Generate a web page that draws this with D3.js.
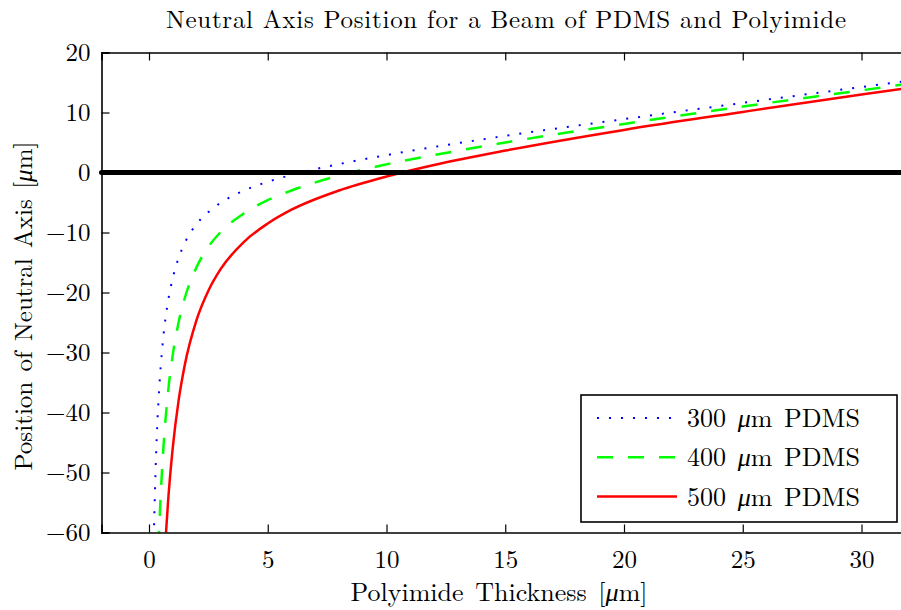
<!DOCTYPE html>
<html>
<head>
<meta charset="utf-8">
<script src="https://cdn.jsdelivr.net/npm/d3@7"></script>
<style>
  body { margin: 0; background: #fff; }
  text { font-family: "Latin Modern Roman", "CMU Serif", "Liberation Serif", serif; fill: #000; }
</style>
</head>
<body>
<div id="chart"></div>
<script>
// polyimide thickness [um] sampled along each curve
const thick300 = [0.2, 0.3, 0.4, 0.5, 0.6, 0.8, 1, 1.25, 1.5, 2, 2.5, 3, 4, 5, 6, 8, 10, 12, 15, 20, 25, 30, 32];
const pdms300 = [-60.8, -46.8, -38.0, -32.0, -27.5, -21.5, -17.6, -14.2, -11.8, -8.6, -6.6, -5.1, -3.0, -1.55, -0.4, 1.4, 2.9, 4.25, 6.1, 8.9, 11.6, 14.25, 15.3];

const thick400 = [0.4, 0.45, 0.5, 0.6, 0.8, 1, 1.25, 1.5, 2, 2.5, 3, 4, 5, 6, 8, 10, 12, 15, 20, 25, 30, 32];
const pdms400 = [-62.4, -57.4, -53.2, -46.3, -36.7, -30.4, -24.9, -21.0, -15.8, -12.4, -10.0, -6.8, -4.6, -3.0, -0.5, 1.35, 2.9, 5.0, 8.1, 11.0, 13.7, 14.8];

const thick500 = [0.6, 0.7, 0.8, 1, 1.25, 1.5, 2, 2.5, 3, 4, 5, 6, 8, 10, 12, 15, 20, 25, 30, 32];
const pdms500 = [-68.5, -61.0, -55.0, -45.9, -37.9, -32.2, -24.6, -19.7, -16.2, -11.55, -8.5, -6.2, -3.0, -0.67, 1.25, 3.65, 7.1, 10.1, 13.0, 14.1];

const seriesNames = ["300 \u03bcm PDMS", "400 \u03bcm PDMS", "500 \u03bcm PDMS"];
const xTicks = [0, 5, 10, 15, 20, 25, 30];
const yTicks = [-60, -50, -40, -30, -20, -10, 0, 10, 20];

const W = 901, H = 610;
const margin = { top: 52.5, right: -8, bottom: 77.5, left: 101.5 };

const svg = d3.select("#chart").append("svg")
    .attr("width", W)
    .attr("height", H);

const x = d3.scaleLinear().domain([-2, 32]).range([margin.left, W - margin.right]);
const y = d3.scaleLinear().domain([-60, 20]).range([H - margin.bottom, margin.top]);

svg.append("clipPath").attr("id", "clip")
  .append("rect")
    .attr("x", x.range()[0]).attr("y", y.range()[1])
    .attr("width", x.range()[1] - x.range()[0])
    .attr("height", y.range()[0] - y.range()[1]);

// curves
const series = [
  { xs: thick300, ys: pdms300, color: "#0000ff", dash: "2,10", width: 2 },
  { xs: thick400, ys: pdms400, color: "#00ff00", dash: "16,15", width: 2.5 },
  { xs: thick500, ys: pdms500, color: "#ff0000", dash: null, width: 2.5 }
];

const line = d3.line()
    .x(d => x(d[0]))
    .y(d => y(d[1]))
    .curve(d3.curveMonotoneX);

const plot = svg.append("g").attr("clip-path", "url(#clip)");
series.forEach(s => {
  plot.append("path")
      .datum(s.xs.map((v, i) => [v, s.ys[i]]))
      .attr("fill", "none")
      .attr("stroke", s.color)
      .attr("stroke-width", s.width)
      .attr("stroke-dasharray", s.dash)
      .attr("d", line);
});

// zero line
svg.append("path")
    .datum(x.domain().map(v => [v, 0]))
    .attr("fill", "none")
    .attr("stroke", "#000")
    .attr("stroke-width", 5)
    .attr("stroke-linecap", "round")
    .attr("d", d3.line().x(d => x(d[0])).y(d => y(d[1])));

// axes, ticks inward on all four sides
const tl = 8;
const fmt = d3.format("d");
svg.append("g")
    .attr("transform", `translate(0,${y.range()[0]})`)
    .call(d3.axisBottom(x).tickValues(xTicks).tickSize(-tl).tickPadding(18).tickFormat(fmt));
svg.append("g")
    .attr("transform", `translate(0,${y.range()[1]})`)
    .call(d3.axisTop(x).tickValues(xTicks).tickSize(-tl).tickFormat(""));
svg.append("g")
    .attr("transform", `translate(${x.range()[0]},0)`)
    .call(d3.axisLeft(y).tickValues(yTicks).tickSize(-tl).tickPadding(11).tickFormat(fmt));
svg.append("g")
    .attr("transform", `translate(${x.range()[1]},0)`)
    .call(d3.axisRight(y).tickValues(yTicks).tickSize(-tl).tickFormat(""));

svg.selectAll(".domain").attr("stroke", "#000").attr("stroke-width", 1.6);
svg.selectAll(".tick line").attr("stroke", "#000").attr("stroke-width", 1.2);
svg.selectAll(".tick text").attr("font-size", 25).style("font-family", null);

// title and labels
svg.append("text")
    .attr("x", 506).attr("y", 28)
    .attr("text-anchor", "middle")
    .attr("font-size", 25)
    .attr("textLength", 680)
    .attr("lengthAdjust", "spacing")
    .text("Neutral Axis Position for a Beam of PDMS and Polyimide");

const xl = svg.append("text")
    .attr("x", 499).attr("y", 601)
    .attr("text-anchor", "middle")
    .attr("font-size", 26)
    .attr("word-spacing", 3);
xl.append("tspan").text("Polyimide Thickness [");
xl.append("tspan").attr("font-style", "italic").text("\u03bc");
xl.append("tspan").text("m]");

const yl = svg.append("text")
    .attr("transform", "translate(32,306) rotate(-90)")
    .attr("text-anchor", "middle")
    .attr("font-size", 25)
    .attr("word-spacing", 2);
yl.append("tspan").text("Position of Neutral Axis [");
yl.append("tspan").attr("font-style", "italic").text("\u03bc");
yl.append("tspan").text("m]");

// legend
const lg = svg.append("g").attr("transform", "translate(581,395)");
lg.append("rect")
    .attr("width", 316).attr("height", 127)
    .attr("fill", "#fff").attr("stroke", "#000").attr("stroke-width", 1.6);
series.forEach((s, i) => {
  const ry = 23 + i * 39.3;
  lg.append("line")
      .attr("x1", 16).attr("x2", 96).attr("y1", ry).attr("y2", ry)
      .attr("stroke", s.color).attr("stroke-width", s.width)
      .attr("stroke-dasharray", s.dash);
  const t = lg.append("text").attr("x", 106).attr("y", ry + 9).attr("font-size", 26)
      .attr("word-spacing", 3);
  const parts = seriesNames[i].split("\u03bc");
  t.append("tspan").text(parts[0]);
  t.append("tspan").attr("font-style", "italic").text("\u03bc");
  t.append("tspan").text(parts[1]);
});
</script>
</body>
</html>
